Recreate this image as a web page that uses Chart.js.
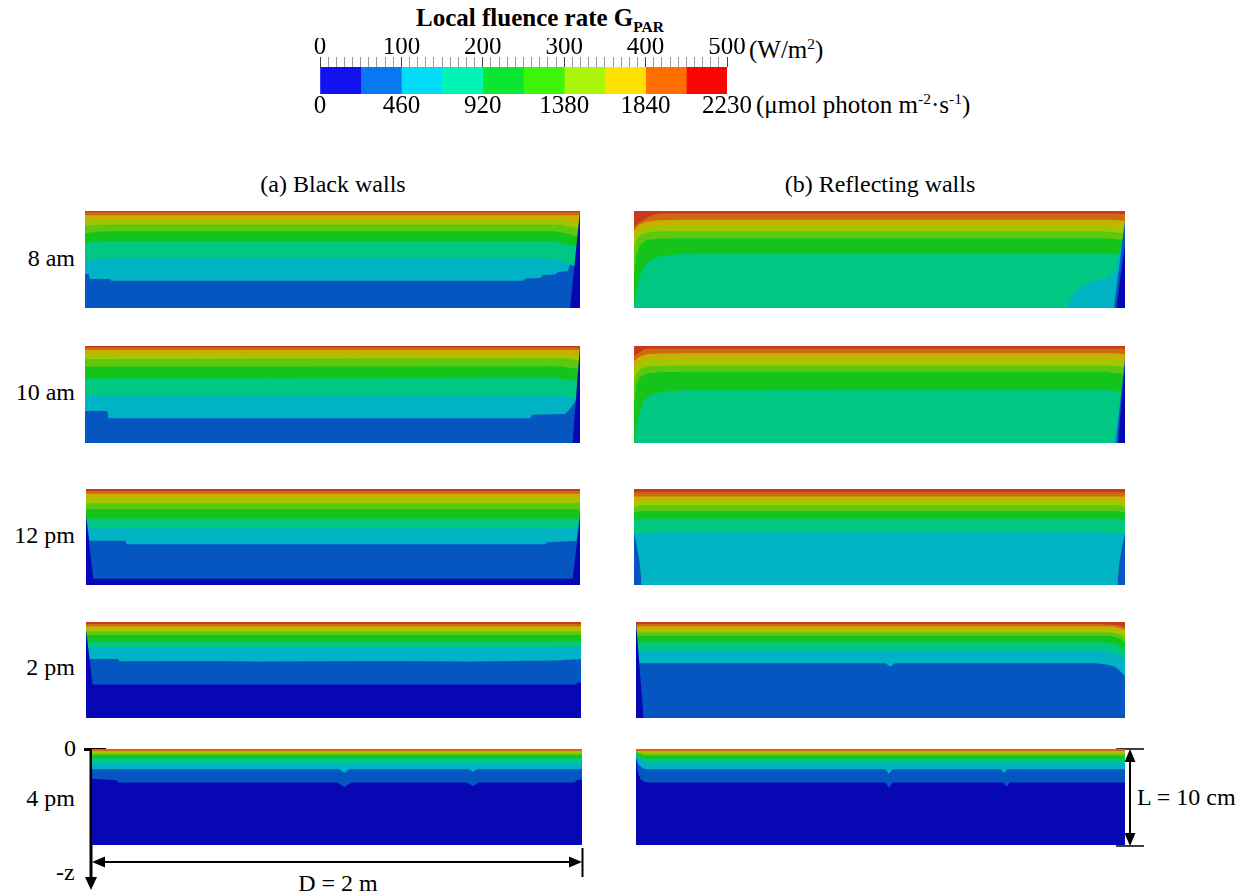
<!DOCTYPE html>
<html>
<head>
<meta charset="utf-8">
<script src="https://cdn.jsdelivr.net/npm/chart.js@4.4.1/dist/chart.umd.min.js"></script>
<style>
  body { margin: 0; background: #fff; }
  #page { position: relative; width: 1260px; height: 895px; overflow: hidden;
          font-family: "Liberation Serif", "Times New Roman", serif; color: #000; }
  #page canvas { position: absolute; }
  .lbl { position: absolute; white-space: nowrap; font-size: 24px; line-height: 24px; }
  .lbl sup, .lbl sub { font-size: 62%; line-height: 0; }
  svg { position: absolute; left: 0; top: 0; }
</style>
</head>
<body>
<div id="page">
  <div class="lbl" style="left:0;width:1080px;top:6px;text-align:center;font-weight:bold;font-size:25px;">Local fluence rate G<sub>PAR</sub></div>
  <div class="lbl" style="left:749px;top:38px;font-size:25px;">(W/m<sup>2</sup>)</div>
  <div class="lbl" style="left:756px;top:93px;font-size:25px;">(&mu;mol photon m<sup>-2</sup>&middot;s<sup>-1</sup>)</div>

  <div class="lbl" style="left:83px;width:500px;text-align:center;top:172px;">(a) Black walls</div>
  <div class="lbl" style="left:630px;width:500px;text-align:center;top:172px;">(b) Reflecting walls</div>

  <div class="lbl" style="right:1185px;top:246px;">8 am</div>
  <div class="lbl" style="right:1185px;top:380px;">10 am</div>
  <div class="lbl" style="right:1185px;top:523px;">12 pm</div>
  <div class="lbl" style="right:1185px;top:655px;">2 pm</div>
  <div class="lbl" style="right:1185px;top:786px;">4 pm</div>

  <div class="lbl" style="right:1184px;top:736px;">0</div>
  <div class="lbl" style="left:56px;top:860px;">-z</div>
  <div class="lbl" style="left:238px;width:200px;text-align:center;top:871px;">D = 2 m</div>
  <div class="lbl" style="left:1137px;top:785px;">L = 10 cm</div>

  <svg width="1260" height="895">
    <g stroke="#000" fill="none">
      <line x1="91" y1="748" x2="91" y2="880" stroke-width="3"/>
      <line x1="84" y1="749.5" x2="106" y2="749.5" stroke-width="3"/>
      <line x1="100" y1="862" x2="574" y2="862" stroke-width="2"/>
      <line x1="582.5" y1="848" x2="582.5" y2="877" stroke-width="2"/>
      <line x1="1130" y1="757" x2="1130" y2="838" stroke-width="2"/>
      <line x1="1116" y1="749" x2="1144" y2="749" stroke-width="1.5"/>
      <line x1="1116" y1="846" x2="1144" y2="846" stroke-width="1.5"/>
    </g>
    <g fill="#000">
      <polygon points="85,877 97,877 91,890"/>
      <polygon points="92,862 105,856.5 105,867.5"/>
      <polygon points="582,862 569,856.5 569,867.5"/>
      <polygon points="1130,749 1124.5,762 1135.5,762"/>
      <polygon points="1130,846 1124.5,833 1135.5,833"/>
    </g>
  </svg>
</div>

<script>
// colour levels, 50 W/m2 each, from 0 (dark blue) to 9 (red)
const bandEdges = [0, 50, 100, 150, 200, 250, 300, 350, 400, 450, 500];
const barColors = ['#1212ee', '#0a78f0', '#00dcf5', '#00f5b4', '#0ae632', '#3cf50a', '#aaf50a', '#ffe100', '#ff6e00', '#fa0505'];
const fieldColors = ['#0707b4', '#0556c0', '#00b3c4', '#00c882', '#14c41a', '#5cc810', '#a2c600', '#c8b000', '#cf6a12', '#c8381e'];
const wattTicks = [0, 100, 200, 300, 400, 500];
const umolLabels = ['0', '460', '920', '1380', '1840', '2230'];

// each layer: [level, fill side ('t' = up to surface, 'b' = down to bottom), [[x in m, depth in cm], ...]]
const black8am = [
  [1, 'b', [[0, 0], [2, 0]]],
  [2, 't', [[0, 6.5], [0.015, 6.5], [0.02, 7.0], [0.1, 7.0], [0.105, 7.2], [1.77, 7.2], [1.78, 6.95], [1.84, 6.9], [1.85, 6.6], [1.9, 6.55], [1.91, 6.3], [1.95, 6.2], [1.96, 5.5], [2, 4.5]]],
  [3, 't', [[0, 5.2], [0.03, 5.0], [0.08, 4.9], [1.85, 4.9], [1.92, 5.1], [1.97, 5.6], [2, 6.0]]],
  [4, 't', [[0, 3.3], [0.05, 3.15], [0.1, 3.1], [1.88, 3.1], [1.95, 3.4], [2, 3.8]]],
  [5, 't', [[0, 2.3], [0.05, 2.15], [0.1, 2.1], [1.9, 2.1], [1.96, 2.4], [2, 2.8]]],
  [6, 't', [[0, 1.5], [0.05, 1.42], [0.1, 1.4], [1.92, 1.4], [2, 1.8]]],
  [7, 't', [[0, 0.95], [0.1, 0.9], [1.94, 0.9], [2, 1.2]]],
  [8, 't', [[0, 0.45], [2, 0.45]]],
  [9, 't', [[0, 0.12], [2, 0.12]]],
  [0, 'b', [[1.96, 10], [2, 0]]]
];
const reflect8am = [
  [3, 'b', [[0, 0], [2, 0]]],
  [4, 't', [[0, 10], [0.006, 9.0], [0.012, 8.0], [0.02, 7.0], [0.035, 6.0], [0.06, 5.2], [0.1, 4.7], [0.18, 4.45], [0.3, 4.35], [1.85, 4.35], [1.95, 4.4], [2, 4.6]]],
  [5, 't', [[0, 6.5], [0.01, 4.5], [0.025, 3.5], [0.05, 3.0], [0.1, 2.85], [0.2, 2.8], [1.9, 2.8], [2, 3.0]]],
  [6, 't', [[0, 4.0], [0.01, 3.0], [0.03, 2.4], [0.07, 2.15], [0.15, 2.1], [1.9, 2.1], [2, 2.3]]],
  [7, 't', [[0, 2.8], [0.015, 2.1], [0.04, 1.7], [0.08, 1.55], [0.15, 1.5], [1.92, 1.5], [2, 1.6]]],
  [8, 't', [[0, 2.0], [0.02, 1.4], [0.05, 1.1], [0.1, 0.95], [0.2, 0.9], [1.94, 0.9], [2, 1.0]]],
  [9, 't', [[0, 1.6], [0.02, 1.2], [0.04, 0.9], [0.06, 0.6], [0.085, 0.35], [0.11, 0.25], [1.95, 0.25], [2, 0.3]]],
  [2, 'b', [[1.76, 10], [1.79, 8.6], [1.83, 7.7], [1.88, 7.2], [1.93, 7.0], [1.96, 6.2], [1.98, 4.0], [2, 2.0]]],
  [1, 'b', [[1.955, 10], [1.97, 7], [1.985, 4], [2, 1.0]]],
  [0, 'b', [[1.965, 10], [1.98, 7], [2, 3.5]]]
];
const black10am = [
  [1, 'b', [[0, 0], [2, 0]]],
  [2, 't', [[0, 6.7], [0.09, 6.7], [0.095, 7.45], [1.8, 7.45], [1.805, 7.1], [1.94, 7.0], [1.96, 6.5], [2, 5.0]]],
  [3, 't', [[0, 5.2], [0.05, 5.05], [1.9, 5.05], [2, 5.5]]],
  [4, 't', [[0, 3.35], [1.9, 3.3], [2, 3.6]]],
  [5, 't', [[0, 2.15], [1.92, 2.1], [2, 2.4]]],
  [6, 't', [[0, 1.35], [1.94, 1.3], [2, 1.5]]],
  [7, 't', [[0, 0.85], [2, 0.9]]],
  [8, 't', [[0, 0.42], [2, 0.42]]],
  [9, 't', [[0, 0.15], [2, 0.15]]],
  [0, 'b', [[1.97, 10], [2, 0]]]
];
const reflect10am = [
  [3, 'b', [[0, 0], [2, 0]]],
  [4, 't', [[0, 10], [0.004, 9.6], [0.01, 8.5], [0.02, 7.0], [0.04, 5.6], [0.07, 5.0], [0.12, 4.7], [0.2, 4.55], [1.88, 4.5], [1.96, 4.6], [2, 5.0]]],
  [5, 't', [[0, 6.0], [0.01, 4.0], [0.025, 3.2], [0.05, 2.85], [0.1, 2.7], [0.2, 2.65], [1.92, 2.65], [2, 2.9]]],
  [6, 't', [[0, 3.8], [0.01, 2.8], [0.03, 2.3], [0.07, 2.05], [0.15, 2.0], [1.94, 2.0], [2, 2.2]]],
  [7, 't', [[0, 2.5], [0.015, 1.8], [0.04, 1.45], [0.1, 1.32], [0.2, 1.3], [1.95, 1.3], [2, 1.45]]],
  [8, 't', [[0, 1.6], [0.02, 1.1], [0.05, 0.85], [0.1, 0.77], [0.2, 0.75], [1.96, 0.75], [2, 0.85]]],
  [9, 't', [[0, 1.0], [0.02, 0.7], [0.04, 0.35], [0.06, 0.25], [2, 0.25]]],
  [2, 'b', [[1.955, 10], [1.965, 8], [1.985, 5], [2, 2.5]]],
  [1, 'b', [[1.963, 10], [1.98, 6], [2, 1.2]]],
  [0, 'b', [[1.972, 10], [1.985, 6], [2, 2.0]]]
];
const black12pm = [
  [0, 'b', [[0, 0], [2, 0]]],
  [1, 't', [[0, 9.35], [2, 9.35]]],
  [2, 't', [[0, 5.4], [0.16, 5.4], [0.165, 5.75], [1.86, 5.75], [1.865, 5.55], [2, 5.4]]],
  [3, 't', [[0, 4.1], [2, 4.1]]],
  [4, 't', [[0, 3.1], [2, 3.1]]],
  [5, 't', [[0, 2.1], [2, 2.1]]],
  [6, 't', [[0, 1.45], [2, 1.45]]],
  [7, 't', [[0, 0.9], [2, 0.9]]],
  [8, 't', [[0, 0.5], [2, 0.5]]],
  [9, 't', [[0, 0.2], [2, 0.2]]],
  [1, 'b', [[0, 2.6], [0.016, 5.75]]],
  [1, 'b', [[1.984, 5.75], [2, 2.6]]],
  [0, 'b', [[0, 3.0], [0.03, 9.4]]],
  [0, 'b', [[1.97, 9.4], [2, 3.0]]]
];
const reflect12pm = [
  [2, 'b', [[0, 0], [2, 0]]],
  [3, 't', [[0, 4.8], [0.02, 4.6], [0.05, 4.55], [1.95, 4.55], [1.98, 4.6], [2, 4.8]]],
  [4, 't', [[0, 3.3], [0.03, 3.1], [1.97, 3.1], [2, 3.3]]],
  [5, 't', [[0, 2.5], [0.03, 2.3], [1.97, 2.3], [2, 2.5]]],
  [6, 't', [[0, 1.9], [0.03, 1.7], [1.97, 1.7], [2, 1.9]]],
  [7, 't', [[0, 1.3], [0.03, 1.15], [1.97, 1.15], [2, 1.3]]],
  [8, 't', [[0, 0.78], [2, 0.78]]],
  [9, 't', [[0, 0.35], [2, 0.35]]],
  [1, 'b', [[0, 4.5], [0.012, 6], [0.022, 7.5], [0.028, 9], [0.031, 10]]],
  [1, 'b', [[1.969, 10], [1.972, 9], [1.978, 7.5], [1.988, 6], [2, 4.5]]]
];
const black2pm = [
  [0, 'b', [[0, 0], [2, 0]]],
  [1, 't', [[0, 6.5], [1.98, 6.5], [1.985, 6.3], [2, 6.3]]],
  [2, 't', [[0, 3.85], [0.13, 3.85], [0.135, 4.1], [0.5, 4.05], [0.7, 4.12], [1.2, 4.05], [1.55, 4.12], [1.9, 4.0], [2, 3.85]]],
  [3, 't', [[0, 2.7], [0.3, 2.65], [0.8, 2.72], [1.4, 2.65], [2, 2.6]]],
  [4, 't', [[0, 2.0], [2, 2.0]]],
  [5, 't', [[0, 1.35], [2, 1.35]]],
  [6, 't', [[0, 1.0], [2, 1.0]]],
  [7, 't', [[0, 0.7], [2, 0.7]]],
  [8, 't', [[0, 0.45], [2, 0.45]]],
  [9, 't', [[0, 0.2], [2, 0.2]]],
  [0, 'b', [[0, 0.8], [0.027, 6.5]]]
];
const reflect2pm = [
  [1, 'b', [[0, 0], [2, 0]]],
  [2, 't', [[0, 4.3], [1.02, 4.3], [1.04, 4.65], [1.06, 4.3], [1.88, 4.3], [1.93, 4.45], [1.96, 4.7], [1.98, 5.1], [2, 5.6]]],
  [3, 't', [[0, 3.0], [1.9, 3.0], [1.95, 3.2], [1.98, 3.5], [2, 3.9]]],
  [4, 't', [[0, 2.1], [1.92, 2.1], [1.96, 2.35], [2, 2.9]]],
  [5, 't', [[0, 1.45], [1.94, 1.45], [1.98, 1.7], [2, 2.1]]],
  [6, 't', [[0, 1.1], [1.95, 1.1], [2, 1.5]]],
  [7, 't', [[0, 0.75], [1.95, 0.75], [2, 1.1]]],
  [8, 't', [[0, 0.45], [1.95, 0.45], [2, 0.8]]],
  [9, 't', [[0, 0.2], [1.9, 0.2], [1.98, 0.35], [2, 0.6]]],
  [0, 'b', [[0, 0], [0.031, 10]]]
];
const black4pm = [
  [0, 'b', [[0, 0], [2, 0]]],
  [1, 't', [[0, 3.1], [0.1, 3.25], [0.105, 3.5], [1.0, 3.5], [1.03, 3.95], [1.06, 3.5], [1.53, 3.5], [1.555, 3.85], [1.58, 3.5], [1.97, 3.5], [1.98, 3.2], [2, 3.2]]],
  [2, 't', [[0, 2.1], [1.01, 2.1], [1.03, 2.5], [1.05, 2.1], [1.54, 2.1], [1.555, 2.4], [1.57, 2.1], [2, 2.1]]],
  [3, 't', [[0, 1.5], [1.02, 1.5], [1.03, 1.8], [1.04, 1.5], [2, 1.5]]],
  [4, 't', [[0, 0.95], [2, 0.95]]],
  [5, 't', [[0, 0.65], [2, 0.65]]],
  [6, 't', [[0, 0.45], [2, 0.45]]],
  [7, 't', [[0, 0.32], [2, 0.32]]],
  [8, 't', [[0, 0.2], [2, 0.2]]]
];
const reflect4pm = [
  [0, 'b', [[0, 0], [2, 0]]],
  [1, 't', [[0, 1.3], [0.01, 2.6], [0.02, 3.2], [0.035, 3.4], [0.05, 3.5], [1.02, 3.5], [1.035, 4.0], [1.05, 3.5], [1.5, 3.5], [1.515, 3.9], [1.53, 3.5], [2, 3.5]]],
  [2, 't', [[0, 0.8], [0.01, 1.6], [0.03, 2.05], [0.06, 2.1], [1.02, 2.1], [1.035, 2.6], [1.05, 2.1], [1.49, 2.1], [1.505, 2.5], [1.52, 2.1], [2, 2.1]]],
  [3, 't', [[0, 0.6], [0.02, 1.2], [0.05, 1.45], [2, 1.45]]],
  [4, 't', [[0, 0.45], [0.02, 0.9], [0.05, 1.0], [2, 1.0]]],
  [5, 't', [[0, 0.35], [0.03, 0.7], [2, 0.7]]],
  [6, 't', [[0, 0.3], [0.03, 0.5], [2, 0.5]]],
  [7, 't', [[0, 0.25], [0.03, 0.4], [2, 0.4]]],
  [8, 't', [[0, 0.2], [2, 0.2]]]
];

// where each field sits on the page: [left, top, width, height]
const panels = [
  [black8am, [85, 211, 495, 97]], [reflect8am, [634, 211, 491, 97]],
  [black10am, [85, 346, 495, 97]], [reflect10am, [634, 346, 491, 97]],
  [black12pm, [86, 489, 494, 96]], [reflect12pm, [634, 489, 491, 96]],
  [black2pm, [86, 622, 495, 96]], [reflect2pm, [636, 622, 489, 96]],
  [black4pm, [92, 749, 490, 96]], [reflect4pm, [636, 749, 489, 96]]
];

const page = document.getElementById('page');
const serif = '"Liberation Serif", "Times New Roman", serif';

function addCanvas(box) {
  const c = document.createElement('canvas');
  c.width = box[2]; c.height = box[3];
  c.style.left = box[0] + 'px'; c.style.top = box[1] + 'px';
  c.style.width = box[2] + 'px'; c.style.height = box[3] + 'px';
  page.appendChild(c);
  return c;
}

panels.forEach(([layers, box]) => {
  const canvas = addCanvas(box);
  new Chart(canvas, {
    type: 'line',
    data: {
      datasets: layers.map((layer, i) => ({
        data: layer[2].map(p => ({ x: p[0], y: p[1] })),
        backgroundColor: fieldColors[layer[0]],
        borderColor: fieldColors[layer[0]],
        borderWidth: 0,
        pointRadius: 0,
        tension: 0,
        fill: { value: layer[1] === 't' ? 0 : 10 },
        order: layers.length - i // first layer is painted first
      }))
    },
    options: {
      responsive: false,
      animation: false,
      devicePixelRatio: 1,
      layout: { padding: 0 },
      scales: {
        x: { type: 'linear', min: 0, max: 2, display: false },
        y: { type: 'linear', min: 0, max: 10, reverse: true, display: false }
      },
      plugins: { legend: { display: false }, tooltip: { enabled: false } }
    }
  });
});

// colour bar
const barCanvas = addCanvas([260, 38, 527, 81]);
new Chart(barCanvas, {
  type: 'bar',
  data: {
    labels: [''],
    datasets: barColors.map((col, i) => ({
      data: [[bandEdges[i], bandEdges[i + 1]]],
      backgroundColor: col,
      borderWidth: 0
    }))
  },
  options: {
    indexAxis: 'y',
    responsive: false,
    animation: false,
    devicePixelRatio: 1,
    grouped: false,
    barPercentage: 1,
    categoryPercentage: 1,
    layout: { padding: { left: 60, right: 60, top: 0, bottom: 0 } },
    scales: {
      y: { display: false },
      x: {
        position: 'top', min: 0, max: 500,
        border: { display: false },
        grid: {
          drawOnChartArea: false, tickLength: 10,
          tickColor: c => (c.tick && c.tick.value % 100 === 0) ? '#444' : '#9a9a9a'
        },
        ticks: {
          stepSize: 10, autoSkip: false, maxRotation: 0, padding: -3, color: '#000',
          font: { family: serif, size: 25, lineHeight: 1 },
          callback: v => (v % 100 === 0 ? String(v) : '')
        }
      },
      x2: {
        position: 'bottom', min: 0, max: 500,
        border: { display: false },
        grid: { display: false, drawTicks: false },
        afterBuildTicks: s => { s.ticks = wattTicks.map(v => ({ value: v })); },
        ticks: {
          autoSkip: false, maxRotation: 0, padding: 0, color: '#000',
          font: { family: serif, size: 25, lineHeight: 1 },
          callback: (v, i) => umolLabels[i]
        }
      }
    },
    plugins: { legend: { display: false }, tooltip: { enabled: false } }
  }
});
</script>
</body>
</html>
